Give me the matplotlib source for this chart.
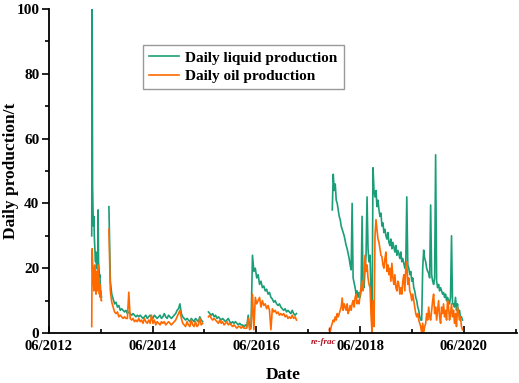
import numpy as np
import pandas as pd
import matplotlib
matplotlib.use('Agg')
import matplotlib.pyplot as plt
import matplotlib.dates as mdates

plt.rcParams['font.family'] = ['Liberation Serif', 'DejaVu Serif']
plt.rcParams['font.weight'] = 'bold'

# production segments (start date, sampling step in days, liquid, oil) in t/d
seg_a_start, seg_a_step = '2013-03-29', 3
seg_a_liquid = [30, 100, 45, 38, 33, 36, 30, 27, 24, 22, 25, 21, 20, 23, 19, 38,
                22, 20, 17, 18, 15, 13, 12, 11]
seg_a_oil = [2, 26, 22, 15, 20, 13, 18, 21, 14, 17, 12, 19, 15, 13, 16, 21,
             14, 17, 12, 15, 11, 13, 10, 10]

seg_b_start, seg_b_step = '2013-07-28', 10
seg_b_liquid = [39, 16, 12, 10.5, 9, 9.5, 8, 8.5, 7, 7.5, 7, 6.5, 7, 6, 6.5, 6,
                5.5, 6, 5.5, 5, 5.5, 5, 5.5, 5, 4.5, 5, 5.5, 4.5, 5, 5.5, 5, 4.5,
                5.5, 5, 4.5, 5, 5.5, 4.5, 5, 6, 5, 4.5, 5.5, 5, 4.5, 5, 5.5, 6,
                7, 7.5, 9, 6, 5, 4.5, 4, 4.5, 4, 3.5, 4.5, 4, 3.5, 4.5, 4, 3.5,
                5, 4, 3.5]
seg_b_oil = [32, 13, 9.5, 8, 6.5, 6, 6.5, 5, 5.5, 5, 4.5, 5, 4.5, 4.5, 12.6, 4.5,
             4, 4.5, 3.5, 4, 3.5, 4.5, 3.5, 4, 3, 4.5, 3.5, 3, 4, 3, 5.5, 3,
             4, 2.5, 3.5, 3, 2.5, 3.5, 3, 3.5, 2.5, 3, 3.5, 3, 2.5, 3, 3.5, 4,
             5, 6, 7, 4.5, 3, 2.5, 2, 3.5, 2.5, 2, 4, 2.5, 2, 3.5, 2, 2.5,
             4.5, 2.5, 3]

seg_c_start, seg_c_step = '2015-06-29', 10
seg_c_liquid = [6.5, 6, 5.5, 6, 5, 5.5, 4.5, 5, 4.5, 4, 4.5, 4, 3.5, 4, 4.5, 3.5,
                3, 3.5, 3, 3.5, 3, 2.5, 3, 2.5, 2.5, 2, 2.5, 2, 5.5, 2, 2, 24,
                19, 20, 17, 18, 15, 16, 14, 14.5, 13, 13.5, 12, 12.5, 11, 10.5, 9.5, 10,
                9, 8.5, 9, 8, 7.5, 7, 7.5, 6.5, 7, 6.5, 6, 7, 6, 5.5, 6]
seg_c_oil = [5, 5.5, 4.5, 4, 4.5, 4, 3.5, 3, 4, 3, 3.5, 2.5, 3, 3.5, 2.5, 3,
             2.5, 2, 2.5, 2, 1.5, 2, 2, 1.5, 2, 1.5, 1.5, 1.5, 4.5, 1, 1.5, 12,
             1, 11, 9, 10, 11, 8, 10, 8.5, 9, 7.5, 8.5, 7, 1, 7.5, 6.5, 7,
             6, 6.5, 5.5, 6, 5.5, 6, 5, 5.5, 4.5, 5, 4.5, 5.5, 4.5, 5, 4]

seg_d_start, seg_d_step = '2017-10-27', 7
seg_d_liquid = [np.nan, np.nan, np.nan, 38, 49, 44, 46, 41, 40, 38, 36, 35, 33, 32, 31, 30,
                28.5, 27, 26, 24.5, 23, 21, 19.5, 40, 17, 15.5, 14, 12, 13, 11, 12.5, 11,
                13, 36, 15, 14, 20, 24, 42, 26, 22, 24, 12, 1, 51, 44, 42, 44,
                39, 41, 38, 36, 37, 33, 34, 31, 32, 30, 29, 31, 28, 27, 29, 26,
                28, 26.5, 25, 27, 24, 25.5, 24.5, 23, 25, 22, 23, 21.5, 20, 22, 42, 21,
                20, 18, 19, 16, 17, 14, 13, 11, 10, 8, 7, 5, 4, 4, 20, 25.6,
                23, 22, 20, 19, 18.5, 17, 39.5, 18, 16, 15, 17, 55, 16, 14, 15, 13,
                14, 13, 12, 12.5, 11, 12, 10, 11, 10, 9, 11, 30, 9, 9, 8, 11,
                7, 9, 6, 7, 5, 5, 4]
seg_d_oil = [1, 0.5, 2, 3, 4, 3.5, 5, 4, 6, 5, 6, 7, 8, 10.8, 7, 9,
             8, 7, 9, 6, 7, 8.5, 7, 9, 10, 8, 11, 12, 9, 10, 9, 12,
             14, 16, 13, 18, 24, 19, 21, 17, 15, 14, 6, 0, 10, 2, 30, 35,
             32, 29, 28, 26, 24, 23.5, 21, 20, 23, 25, 19, 21, 18, 20, 16, 21.5,
             17, 15, 18, 14, 13, 16, 15, 12, 14, 12, 16, 18, 13, 20, 22, 15,
             17, 13, 12, 10, 12, 10, 8, 6, 5, 6, 4, 3, 2, 0, 3, 0.5,
             2, 3, 6, 4, 8, 5, 4, 7, 10, 12, 6, 8, 4, 7, 10, 5,
             3, 8, 6, 9, 5, 7, 4, 10, 8, 4, 6, 9, 5, 7, 3, 6,
             2, 8, 6, 4, 5, 2, 1]

segments = [
    (seg_a_start, seg_a_step, seg_a_liquid, seg_a_oil),
    (seg_b_start, seg_b_step, seg_b_liquid, seg_b_oil),
    (seg_c_start, seg_c_step, seg_c_liquid, seg_c_oil),
    (seg_d_start, seg_d_step, seg_d_liquid, seg_d_oil),
]

refrac_date = '2017-10-27'
green = '#1b9e77'
orange = '#ff6a00'

fig = plt.figure(figsize=(5.19, 3.83), dpi=100)
ax = fig.add_axes([0.0944, 0.1305, 0.9017, 0.846])

for k, (start, step, liq, oil) in enumerate(segments):
    dates = pd.date_range(start, periods=len(liq), freq='%dD' % step)
    ax.plot(dates, liq, color=green, lw=1.2,
            label='Daily liquid production' if k == 0 else None)
for k, (start, step, liq, oil) in enumerate(segments):
    dates = pd.date_range(start, periods=len(oil), freq='%dD' % step)
    ax.plot(dates, oil, color=orange, lw=1.2,
            label='Daily oil production' if k == 0 else None)

# re-frac marker
rd = pd.Timestamp(refrac_date)
ax.vlines(rd, 0, 1.8, color='#d0202a', lw=1.0, clip_on=False)
ax.text(rd - pd.Timedelta(days=40), -1.4, 're-frac', color='#b01020', fontsize=6.5,
        style='italic', ha='center', va='top', clip_on=False)

ax.set_xlim(pd.Timestamp('2012-06-01'), pd.Timestamp('2021-06-10'))
ax.set_ylim(0, 100)

ax.xaxis.set_major_locator(mdates.YearLocator(base=2, month=6, day=1))
ax.xaxis.set_minor_locator(mdates.YearLocator(base=1, month=6, day=1))
ax.xaxis.set_major_formatter(mdates.DateFormatter('%m/%Y'))
ax.set_yticks(np.arange(0, 101, 20))
ax.set_yticks(np.arange(10, 100, 20), minor=True)

ax.tick_params(axis='x', which='both', direction='in', labelsize=10.5, width=1.2)
ax.tick_params(axis='x', which='major', length=5, pad=5)
ax.tick_params(axis='x', which='minor', length=3)
ax.tick_params(axis='y', which='both', direction='out', labelsize=11, width=1.2)
ax.tick_params(axis='y', which='major', length=5, pad=2)
ax.tick_params(axis='y', which='minor', length=3)

for side in ['top', 'right']:
    ax.spines[side].set_visible(False)
for side in ['left', 'bottom']:
    ax.spines[side].set_linewidth(1.3)

ax.set_xlabel('Date', fontsize=12.5, fontweight='bold', labelpad=10)
ax.set_ylabel('Daily production/t', fontsize=12.5, fontweight='bold', va='center')
ax.yaxis.set_label_coords(-0.082, 0.5)

leg = ax.legend(loc='upper left', bbox_to_anchor=(0.2, 0.889), borderaxespad=0,
                fontsize=11, frameon=True, fancybox=False, handlelength=2.0,
                handletextpad=0.4, borderpad=0.4, labelspacing=0.3)
leg.get_frame().set_edgecolor('#808080')
leg.get_frame().set_linewidth(1.0)
for t in leg.get_texts():
    t.set_fontweight('bold')

fig.savefig('out.png', dpi=100)
